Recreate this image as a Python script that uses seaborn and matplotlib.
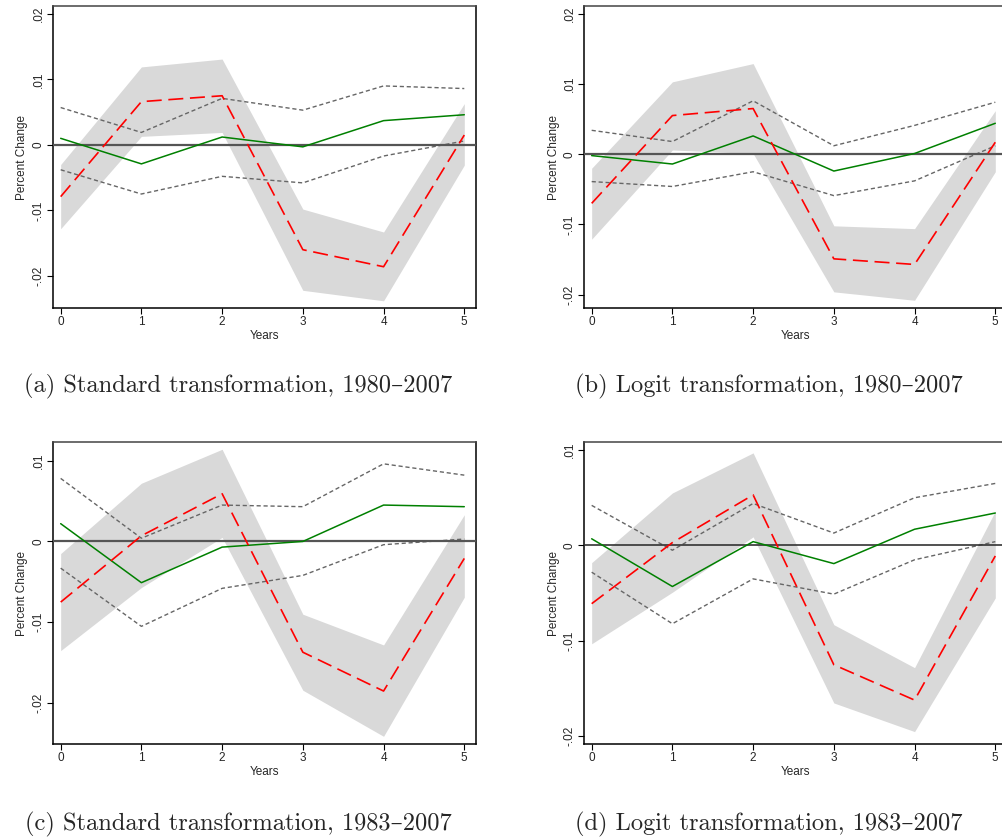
import matplotlib
matplotlib.use("Agg")
import matplotlib.pyplot as plt
import seaborn as sns
import numpy as np

# Horizon (years after the shock)
years = [0, 1, 2, 3, 4, 5]

# (a) Standard transformation, 1980-2007
a_point = [-0.0079, 0.0066, 0.0075, -0.0160, -0.0186, 0.0015]
a_band_lo = [-0.0128, 0.0013, 0.0019, -0.0222, -0.0238, -0.0031]
a_band_hi = [-0.0030, 0.0119, 0.0131, -0.0098, -0.0133, 0.0063]
a_green = [0.0010, -0.0029, 0.0012, -0.0003, 0.0037, 0.0046]
a_ci_lo = [-0.0038, -0.0075, -0.0048, -0.0058, -0.0017, 0.0006]
a_ci_hi = [0.0057, 0.0019, 0.0071, 0.0053, 0.0090, 0.0086]

# (b) Logit transformation, 1980-2007
b_point = [-0.0070, 0.0055, 0.0065, -0.0149, -0.0157, 0.0017]
b_band_lo = [-0.0121, 0.0006, 0.0001, -0.0196, -0.0208, -0.0025]
b_band_hi = [-0.0020, 0.0103, 0.0129, -0.0102, -0.0106, 0.0062]
b_green = [-0.0002, -0.0014, 0.0026, -0.0024, 0.0001, 0.0044]
b_ci_lo = [-0.0039, -0.0046, -0.0025, -0.0059, -0.0038, 0.0012]
b_ci_hi = [0.0034, 0.0018, 0.0076, 0.0012, 0.0041, 0.0074]

# (c) Standard transformation, 1983-2007
c_point = [-0.0075, 0.0007, 0.0059, -0.0137, -0.0185, -0.0021]
c_band_lo = [-0.0135, -0.0057, 0.0005, -0.0184, -0.0241, -0.0069]
c_band_hi = [-0.0015, 0.0072, 0.0114, -0.0090, -0.0128, 0.0033]
c_green = [0.0022, -0.0051, -0.0007, 0.0000, 0.0045, 0.0043]
c_ci_lo = [-0.0033, -0.0105, -0.0058, -0.0042, -0.0004, 0.0003]
c_ci_hi = [0.0078, 0.0004, 0.0045, 0.0043, 0.0096, 0.0082]

# (d) Logit transformation, 1983-2007
d_point = [-0.0061, 0.0003, 0.0053, -0.0125, -0.0162, -0.0011]
d_band_lo = [-0.0103, -0.0049, 0.0009, -0.0165, -0.0195, -0.0055]
d_band_hi = [-0.0018, 0.0055, 0.0097, -0.0083, -0.0128, 0.0036]
d_green = [0.0007, -0.0043, 0.0004, -0.0019, 0.0017, 0.0034]
d_ci_lo = [-0.0028, -0.0082, -0.0035, -0.0051, -0.0015, 0.0004]
d_ci_hi = [0.0042, -0.0005, 0.0044, 0.0013, 0.0050, 0.0065]

captions = [
    "(a) Standard transformation, 1980\u20132007",
    "(b) Logit transformation, 1980\u20132007",
    "(c) Standard transformation, 1983\u20132007",
    "(d) Logit transformation, 1983\u20132007",
]

ytick_vals_top = [-0.02, -0.01, 0, 0.01, 0.02]
ytick_lab_top = ["-.02", "-.01", "0", ".01", ".02"]
ytick_vals_bot = [-0.02, -0.01, 0, 0.01]
ytick_lab_bot = ["-.02", "-.01", "0", ".01"]

sns.set_theme(style="white")
plt.rcParams["font.family"] = ["Liberation Sans", "DejaVu Sans"]

W, H = 1002, 839
fig = plt.figure(figsize=(W / 100, H / 100), dpi=100)
fig.patch.set_facecolor("white")


def px_axes(left, top, right, bottom):
    return fig.add_axes([left / W, 1 - bottom / H, (right - left) / W, (bottom - top) / H])


panels = [
    dict(box=(53, 6, 476, 308), ylim=(-0.0249, 0.0212),
         point=a_point, lo=a_band_lo, hi=a_band_hi, green=a_green, cilo=a_ci_lo, cihi=a_ci_hi,
         yt=ytick_vals_top, yl=ytick_lab_top, zero=("#555555", 1.6), cap_xy=(238, 386)),
    dict(box=(584, 6, 1007, 308), ylim=(-0.0219, 0.0211),
         point=b_point, lo=b_band_lo, hi=b_band_hi, green=b_green, cilo=b_ci_lo, cihi=b_ci_hi,
         yt=ytick_vals_top, yl=ytick_lab_top, zero=("#555555", 1.6), cap_xy=(769, 386)),
    dict(box=(53, 442, 476, 744), ylim=(-0.02505, 0.0123),
         point=c_point, lo=c_band_lo, hi=c_band_hi, green=c_green, cilo=c_ci_lo, cihi=c_ci_hi,
         yt=ytick_vals_bot, yl=ytick_lab_bot, zero=("#555555", 1.6), cap_xy=(238, 824)),
    dict(box=(584, 442, 1007, 744), ylim=(-0.0208, 0.01084),
         point=d_point, lo=d_band_lo, hi=d_band_hi, green=d_green, cilo=d_ci_lo, cihi=d_ci_hi,
         yt=ytick_vals_bot, yl=ytick_lab_bot, zero=("#333333", 1.2), cap_xy=(769, 824)),
]

for p, caption in zip(panels, captions):
    ax = px_axes(*p["box"])
    ax.set_facecolor("white")
    ax.fill_between(years, p["lo"], p["hi"], color="#d9d9d9", linewidth=0, zorder=1)
    sns.lineplot(x=years, y=p["cihi"], ax=ax, color="#666666", linewidth=1.0,
                 linestyle=(0, (3, 2)), errorbar=None, zorder=2)
    sns.lineplot(x=years, y=p["cilo"], ax=ax, color="#666666", linewidth=1.0,
                 linestyle=(0, (3, 2)), errorbar=None, zorder=2)
    ax.axhline(0, color=p["zero"][0], linewidth=p["zero"][1], zorder=3)
    sns.lineplot(x=years, y=p["green"], ax=ax, color="#008000", linewidth=1.1,
                 errorbar=None, zorder=4)
    sns.lineplot(x=years, y=p["point"], ax=ax, color="#ff0000", linewidth=1.2,
                 linestyle=(0, (9, 4)), errorbar=None, zorder=5)

    ax.set_xlim(-0.095, 5.145)
    ax.set_ylim(*p["ylim"])
    ax.set_xticks(years)
    ax.set_xticklabels([str(y) for y in years], fontsize=8.5)
    ax.set_yticks(p["yt"])
    ax.set_yticklabels(p["yl"], fontsize=8.5, rotation=90, va="center")
    ax.tick_params(axis="both", which="both", direction="out", length=4, width=0.8,
                   color="black", pad=2, left=True, bottom=True)
    ax.set_xlabel("Years", fontsize=8.5, labelpad=1)
    ax.set_ylabel("Percent Change", fontsize=8.5, labelpad=3)
    for s in ax.spines.values():
        s.set_visible(True)
        s.set_color("black")
        s.set_linewidth(1.1)
    ax.spines["top"].set_color("#444444")
    ax.grid(False)

    cx, cy = p["cap_xy"]
    fig.text(cx / W, 1 - cy / H, caption, fontsize=17.6, ha="center", va="center",
             family=["cmr10", "DejaVu Serif"])

fig.savefig("out.png", dpi=100, facecolor="white")
